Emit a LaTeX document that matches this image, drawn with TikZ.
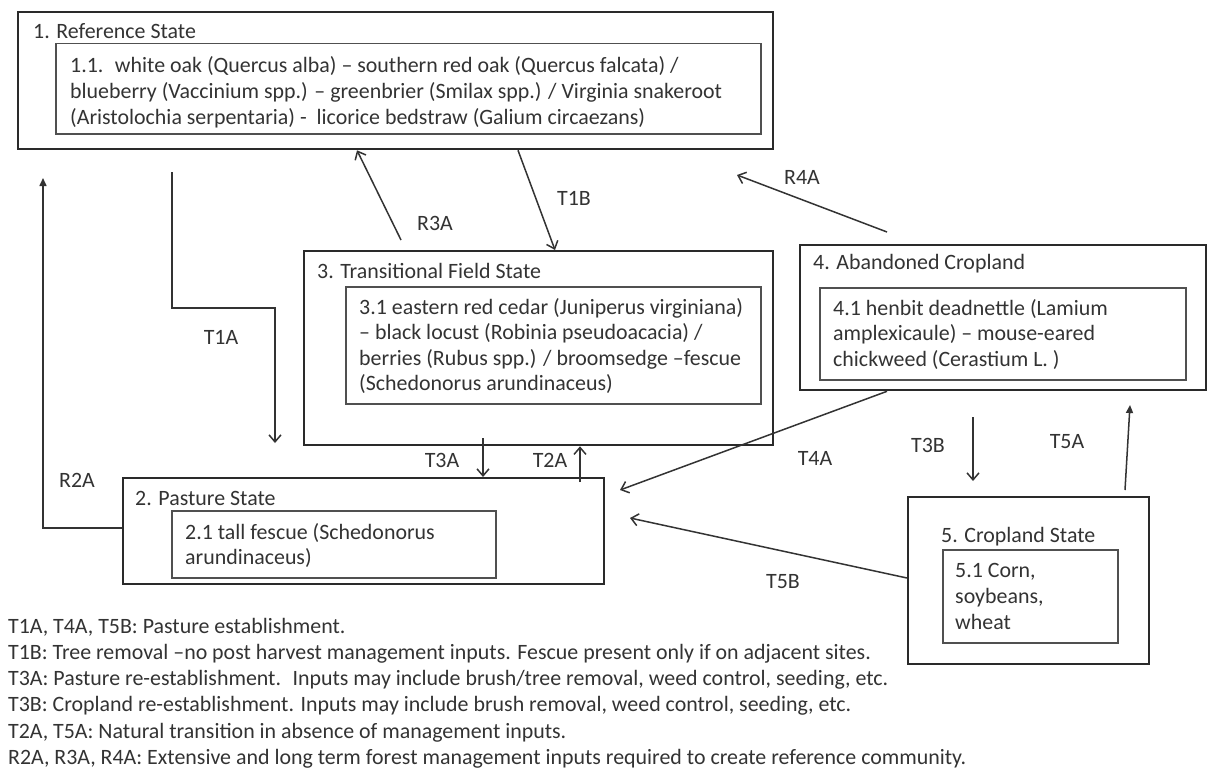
\documentclass[tikz,border=0pt]{standalone}
\usepackage{fontspec}
\setmainfont{Carlito}
\usetikzlibrary{arrows.meta}
\definecolor{txtc}{HTML}{333333}
\definecolor{outc}{HTML}{2A2A2A}
\definecolor{inc}{HTML}{505050}
\definecolor{linec}{HTML}{333333}
\newcommand{\mylines}[2]{{\fontsize{21.9}{#1}\selectfont\begin{tabular}[t]{@{}l@{}}#2\end{tabular}}}
\begin{document}
\begin{tikzpicture}[x=1pt,y=-1pt,
  font=\fontsize{21.9}{26}\selectfont, text=txtc,
  outerbox/.style={draw=outc, line width=2.3pt, rectangle, inner sep=0pt, anchor=north west},
  innerbox/.style={draw=inc, line width=1.5pt, rectangle, inner sep=0pt, anchor=north west},
  txt/.style={inner sep=0pt, anchor=base west},
  tlabel/.style={inner sep=0pt},
  arr/.style={draw=linec, line width=1.5pt, -{Straight Barb[length=7pt,width=12pt,line width=1.5pt]}},
  arrf/.style={draw=linec, line width=1.5pt, -{Triangle[length=8pt,width=7pt]}}]
\useasboundingbox (0,0) rectangle (1207,776);
\fill[white] (0,0) rectangle (1207,776);

% State boxes
\node[outerbox, minimum width=755pt, minimum height=137pt] (s1) at (17,11) {};
\node[innerbox, minimum width=705pt, minimum height=90pt] (s1i) at (55,43) {};
\node[txt] (s1t) at (33,39) {1. Reference State};
\node[txt] (s1x) at (70,72) {\mylines{26}{1.1.~ white oak (Quercus alba) – southern red oak (Quercus falcata) /\\
blueberry (Vaccinium spp.) – greenbrier (Smilax spp.) / Virginia snakeroot\\
(Aristolochia serpentaria) -~ licorice bedstraw (Galium circaezans)}};

\node[outerbox, minimum width=469pt, minimum height=194pt] (s3) at (303,250) {};
\node[innerbox, minimum width=415pt, minimum height=117pt] (s3i) at (345,286) {};
\node[txt] (s3t) at (317,278) {3. Transitional Field State};
\node[txt] (s3x) at (359,314) {\mylines{25.5}{3.1 eastern red cedar (Juniperus virginiana)\\
– black locust (Robinia pseudoacacia) /\\
berries (Rubus spp.) / broomsedge –fescue\\
(Schedonorus arundinaceus)}};

\node[outerbox, minimum width=406pt, minimum height=145pt] (s4) at (799,244) {};
\node[innerbox, minimum width=366pt, minimum height=92pt] (s4i) at (819,287) {};
\node[txt] (s4t) at (813,269) {4. Abandoned Cropland};
\node[txt] (s4x) at (833,315) {\mylines{25.5}{4.1 henbit deadnettle (Lamium\\
amplexicaule) – mouse-eared\\
chickweed (Cerastium L. )}};

\node[outerbox, minimum width=481pt, minimum height=106pt] (s2) at (122,477) {};
\node[innerbox, minimum width=324pt, minimum height=67pt] (s2i) at (171,510) {};
\node[txt] (s2t) at (135,505) {2. Pasture State};
\node[txt] (s2x) at (185,539) {\mylines{25}{2.1 tall fescue (Schedonorus\\
arundinaceus)}};

\node[outerbox, minimum width=241pt, minimum height=167pt] (s5) at (907,496) {};
\node[innerbox, minimum width=175pt, minimum height=93pt] (s5i) at (942,549) {};
\node[txt] (s5t) at (941,542) {5. Cropland State};
\node[txt] (s5x) at (955,577) {\mylines{26}{5.1 Corn,\\
soybeans,\\
wheat}};

% Free ends of connectors
\coordinate (r2ac) at (43,528);
\coordinate (r2ae) at (43,178);
\coordinate (t1as) at (172,172);
\coordinate (t1ac1) at (172,308);
\coordinate (t1ac2) at (275,308);
\coordinate (t1ae) at (275,443);
\coordinate (r3as) at (401,240);
\coordinate (r3ae) at (357,148);
\coordinate (t1bs) at (518,148);
\coordinate (t1be) at (555,250);
\coordinate (r4as) at (887,232);
\coordinate (r4ae) at (737,175);
\coordinate (t3as) at (483,438);
\coordinate (t3ae) at (483,477);
\coordinate (t2as) at (580,482);
\coordinate (t2ae) at (580,445);
\coordinate (t4as) at (887,389);
\coordinate (t4ae) at (620,490);
\coordinate (t3bs) at (973,417);
\coordinate (t3be) at (973,481);
\coordinate (t5as) at (1125,490);
\coordinate (t5ae) at (1130,405);
\coordinate (t5bs) at (907,578);
\coordinate (t5be) at (630,518);

% Connectors
\draw[arrf] (s2.west |- r2ac) -- (r2ac) -- (r2ae);
\draw[arr] (t1as) -- (t1ac1) -- (t1ac2) -- (t1ae);
\draw[arr] (r3as) -- (s1.south -| r3ae);
\draw[arr] (s1.south -| t1bs) -- (s3.north -| t1be);
\draw[arr] (r4as) -- (r4ae);
\draw[arr] (t3as) -- (s2.north -| t3ae);
\draw[arr] (t2as) -- (s3.south -| t2ae);
\draw[arr] (s4.south -| t4as) -- (t4ae);
\draw[arr] (t3bs) -- (t3be);
\draw[arrf] (t5as) -- (t5ae);
\draw[arr] (s5.west |- t5bs) -- (t5be);

% Connector labels
\node[tlabel] (lr2a) at (77,480) {R2A};
\node[tlabel] (lt1a) at (221,337) {T1A};
\node[tlabel] (lr3a) at (435,223) {R3A};
\node[tlabel] (lt1b) at (574,198) {T1B};
\node[tlabel] (lr4a) at (802,177) {R4A};
\node[tlabel] (lt3a) at (442,460) {T3A};
\node[tlabel] (lt2a) at (550,460) {T2A};
\node[tlabel] (lt4a) at (815,458) {T4A};
\node[tlabel] (lt3b) at (928,445) {T3B};
\node[tlabel] (lt5a) at (1067,442) {T5A};
\node[tlabel] (lt5b) at (783,582) {T5B};

% Legend
\node[txt] (legend) at (8,633) {\mylines{26.3}{T1A, T4A, T5B: Pasture establishment.\\
T1B: Tree removal –no post harvest management inputs. Fescue present only if on adjacent sites.\\
T3A: Pasture re-establishment.~ Inputs may include brush/tree removal, weed control, seeding, etc.\\
T3B: Cropland re-establishment. Inputs may include brush removal, weed control, seeding, etc.\\
T2A, T5A: Natural transition in absence of management inputs.\\
R2A, R3A, R4A: Extensive and long term forest management inputs required to create reference community.}};
\end{tikzpicture}
\end{document}
